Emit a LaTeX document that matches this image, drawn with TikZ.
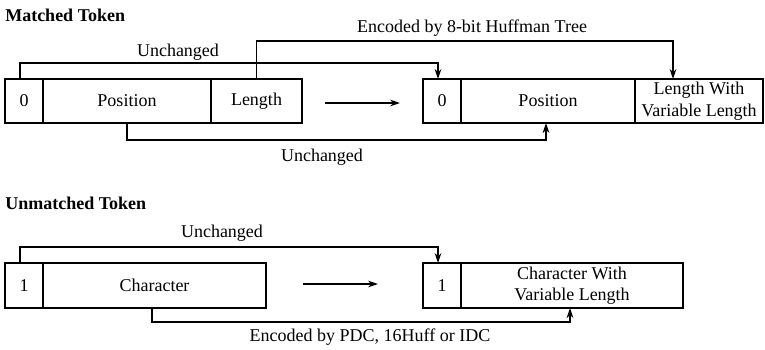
\documentclass[tikz,border=0pt]{standalone}
\usepackage{fontspec}
\setmainfont{Liberation Serif}
\usetikzlibrary{arrows.meta,calc}
\begin{document}
\begin{tikzpicture}[x=0.75pt,y=-0.75pt,
  cell/.style={draw,line width=1.2pt,rectangle,inner sep=0pt,outer sep=0pt,anchor=north west,
    minimum height=44*0.75pt,font=\fontsize{13.5}{16.2}\selectfont,align=center},
  arr/.style={line width=1.2pt,-{Stealth[length=7.5pt,width=5pt]}},
  lbl/.style={font=\fontsize{13.5}{16}\selectfont,inner sep=0pt},
  ttl/.style={font=\bfseries\fontsize{13.5}{16}\selectfont,anchor=west,inner sep=0pt}]
\useasboundingbox (0,0) rectangle (765,350);

% titles
\node[ttl] (t1) at (5,15) {Matched Token};
\node[ttl] (t2) at (5,203) {Unmatched Token};

% matched token, original
\node[cell,minimum width=38*0.75pt] (a0) at (5,79) {0};
\node[cell,minimum width=168*0.75pt] (apos) at (43,79) {Position};
\node[cell,minimum width=91*0.75pt] (alen) at (211,79) {Length};
% matched token, encoded
\node[cell,minimum width=38*0.75pt] (b0) at (423,79) {0};
\node[cell,minimum width=174*0.75pt] (bpos) at (461,79) {Position};
\node[cell,minimum width=128*0.75pt] (blen) at (635,79) {Length With\\Variable Length};

% unmatched token, original
\node[cell,minimum width=38*0.75pt,minimum height=45*0.75pt] (c1) at (5,263) {1};
\node[cell,minimum width=223*0.75pt,minimum height=45*0.75pt] (cchar) at (43,263) {Character};
% unmatched token, encoded
\node[cell,minimum width=38*0.75pt,minimum height=45*0.75pt] (d1) at (423,263) {1};
\node[cell,minimum width=222*0.75pt,minimum height=45*0.75pt] (dchar) at (461,263) {Character With\\Variable Length};

% middle arrows
\coordinate (m1s) at (325,103);
\coordinate (m1e) at (400,103);
\draw[arr] (m1s) -- (m1e);
\coordinate (m2s) at (303,284);
\coordinate (m2e) at (378,284);
\draw[arr] (m2s) -- (m2e);

% connectors, matched
\draw[arr] ($(a0.north)+(-4,0)$) -- ++(0,-16) -| ($(b0.north)+(-4,0)$);
\draw[arr] (alen.north) -- ++(0,-38) -| ($(blen.north west)+(38,0)$);
\draw[arr] (apos.south) -- ++(0,17) -| ($(bpos.south)+(-2,0)$);

% connectors, unmatched
\draw[arr] ($(c1.north)+(-4,0)$) -- ++(0,-16) -| ($(d1.north)+(-4,0)$);
\draw[arr] ($(cchar.south)+(-2.5,0)$) -- ++(0,14) -| ($(dchar.south)+(-2,0)$);

% labels
\node[lbl] (l1) at (178,52) {Unchanged};
\node[lbl] (l2) at (472,28) {Encoded by 8-bit Huffman Tree};
\node[lbl] (l3) at (322,157) {Unchanged};
\node[lbl] (l4) at (222,233) {Unchanged};
\node[lbl] (l5) at (370,337) {Encoded by PDC, 16Huff or IDC};
\end{tikzpicture}
\end{document}
